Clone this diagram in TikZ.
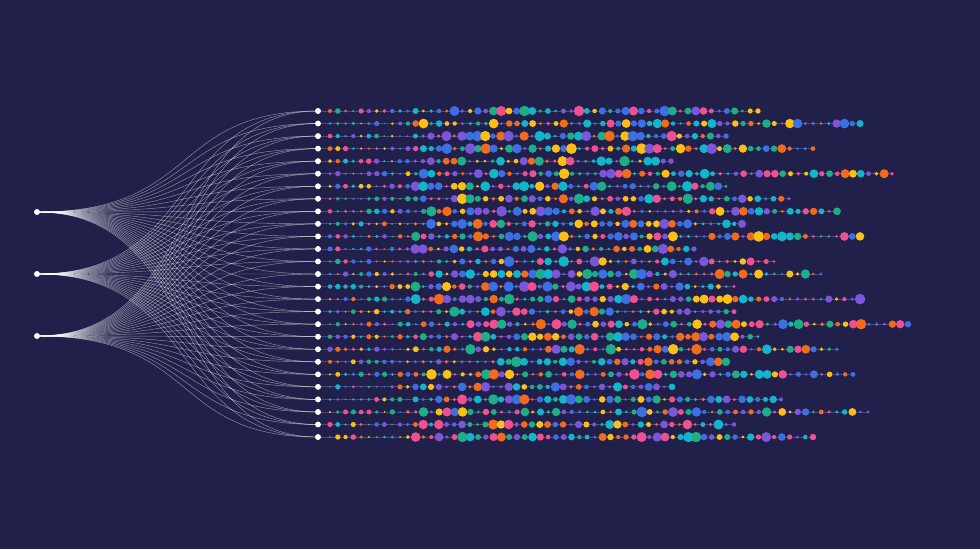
\documentclass[tikz,border=0pt]{standalone}
\usepackage{tikz}

\definecolor{bg}{HTML}{20204A}
\definecolor{track}{HTML}{4A4A7C}
\definecolor{pal1}{HTML}{12B6CA}
\definecolor{pal2}{HTML}{3B6FE2}
\definecolor{pal3}{HTML}{7B56D8}
\definecolor{pal4}{HTML}{F0508F}
\definecolor{pal5}{HTML}{F26A1C}
\definecolor{pal6}{HTML}{FDC012}
\definecolor{pal7}{HTML}{1DAE88}

\begin{document}
\begin{tikzpicture}[x=1pt,y=-1pt,
  hub/.style={circle,fill=white,inner sep=0pt,minimum size=5.6pt},
  wire/.style={white,opacity=0.5,line width=0.45pt}]
\fill[bg] (0,0) rectangle (980,549);
\pgfmathsetseed{4217}

% inputs and outputs
\foreach \i in {1,2,3}
  \node[hub] (in\i) at (37,{150+62*\i}) {};

\foreach \j/\e in {1/758,2/860,3/726,4/813,5/671,6/892,7/726,8/789,9/837,
    10/742,11/860,12/694,13/774,14/821,15/734,16/860,17/734,18/908,19/758,
    20/837,21/726,22/853,23/672,24/781,25/868,26/734,27/813}{
  \node[hub] (out\j) at (318,{111+12.54*(\j-1)}) {};
  \coordinate (end\j) at (\e,{111+12.54*(\j-1)});
  \draw[track,line width=0.8pt] (out\j) -- (end\j);
  \pgfmathtruncatemacro{\n}{round((\e-330)/7.8)}
  \pgfmathsetmacro{\gap}{(\e-330)/\n}
  \foreach \k in {0,...,\n}{
    \pgfmathsetmacro{\xx}{330+\k*\gap}
    \pgfmathrandominteger{\c}{1}{7}
    \pgfmathsetmacro{\u}{rnd}
    \pgfmathsetmacro{\r}{\xx<412 ? 0.9+1.9*\u : 1.4+4*\u*sqrt(\u)}
    \fill[pal\c] (\xx,{111+12.54*(\j-1)}) circle (\r);
  }
}

% wires
\foreach \i in {1,2,3}
  \foreach \j in {1,...,27}
    \draw[wire] (in\i.center) .. controls +(165,0) and +(-150,0) .. (out\j.center);

% redraw hubs on top
\foreach \i in {1,2,3} \fill[white] (in\i) circle (2.8);
\foreach \j in {1,...,27} \fill[white] (out\j) circle (2.8);

\end{tikzpicture}
\end{document}
